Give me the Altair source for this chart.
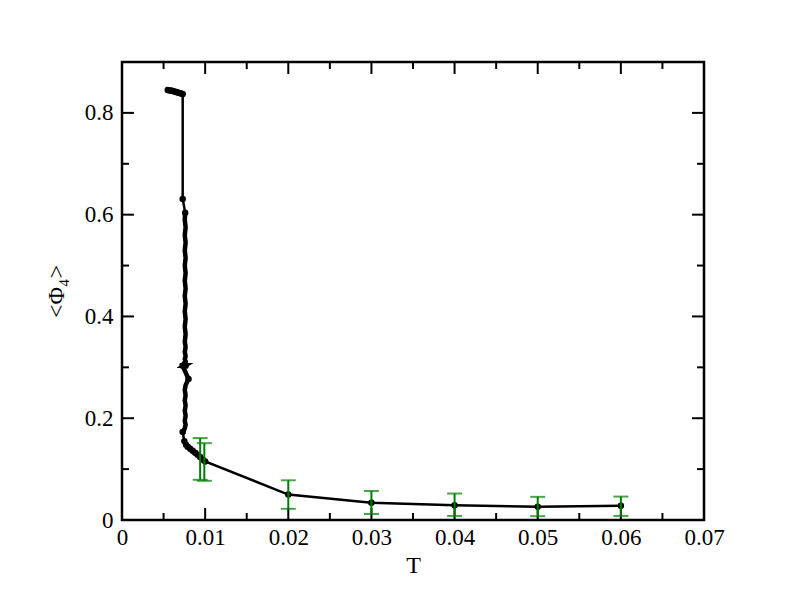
import altair as alt
import pandas as pd

# main series (plateau, steep drop, dense tail, high-T points)
T_main = [0.0055, 0.0057, 0.0059, 0.0061, 0.0063, 0.0065, 0.0067, 0.0069, 0.0071, 0.0073,
          0.0073, 0.0076,
          0.00755, 0.00765, 0.00755, 0.00765, 0.00755, 0.00765, 0.00755, 0.00765, 0.00755, 0.00765,
          0.00755, 0.00765, 0.00755, 0.00765, 0.00755, 0.00765, 0.00755, 0.00765, 0.00755, 0.00765,
          0.00755, 0.00765, 0.00755, 0.00765, 0.00755, 0.00765, 0.00755, 0.00765, 0.00755, 0.00765,
          0.0073, 0.0080,
          0.00765, 0.00755, 0.00765, 0.00755, 0.00765, 0.00755, 0.00765, 0.00755, 0.00765, 0.00755,
          0.0073, 0.0075, 0.0077, 0.0079, 0.0082, 0.0085, 0.0088, 0.0091, 0.0094,
          0.0097, 0.0100, 0.02, 0.03, 0.04, 0.05, 0.06]
phi_main = [0.845, 0.844, 0.844, 0.843, 0.842, 0.841, 0.840, 0.839, 0.838, 0.837,
            0.631, 0.604,
            0.590, 0.575, 0.560, 0.545, 0.530, 0.515, 0.500, 0.485, 0.470, 0.455,
            0.440, 0.425, 0.410, 0.395, 0.380, 0.365, 0.350, 0.340, 0.330, 0.322,
            0.316, 0.312, 0.310, 0.308, 0.306, 0.305, 0.304, 0.304, 0.303, 0.303,
            0.303, 0.277,
            0.265, 0.255, 0.245, 0.235, 0.225, 0.215, 0.205, 0.195, 0.187, 0.180,
            0.173, 0.155, 0.148, 0.144, 0.140, 0.136, 0.132, 0.128, 0.124,
            0.119, 0.115, 0.050, 0.034, 0.029, 0.026, 0.028]

# error-bar series
T_err = [0.0094, 0.0099, 0.02, 0.03, 0.04, 0.05, 0.06]
phi_err = [0.120, 0.114, 0.050, 0.0345, 0.030, 0.0265, 0.027]
d_err = [0.041, 0.037, 0.028, 0.0225, 0.022, 0.019, 0.019]

x_major = [0, 0.01, 0.02, 0.03, 0.04, 0.05, 0.06, 0.07]
x_minor = [0.005, 0.015, 0.025, 0.035, 0.045, 0.055, 0.065]
y_major = [0, 0.2, 0.4, 0.6, 0.8]
y_minor = [0.1, 0.3, 0.5, 0.7]

W, H = 582, 458
FONT = "Liberation Serif"

main = pd.DataFrame({"T": T_main, "phi": phi_main, "i": list(range(len(T_main)))})
# markers shown only at distinct points (the dense band reads as a thick line)
marker_idx = list(range(0, 12)) + [41, 42, 43] + list(range(54, len(T_main)))
marks_df = main.iloc[marker_idx]
band_df = main.iloc[11:55]
err = pd.DataFrame({"T": T_err, "lo": [p - d for p, d in zip(phi_err, d_err)],
                    "hi": [p + d for p, d in zip(phi_err, d_err)]})

xs = alt.Scale(domain=[0, 0.07], nice=False, zero=False)
ys = alt.Scale(domain=[0, 0.9], nice=False, zero=False)

xax = alt.Axis(values=x_major, format="~g", tickSize=0, domain=False, grid=False,
               labelFont=FONT, labelFontSize=23, labelColor="black", labelPadding=6,
               title="T", titleFont=FONT, titleFontSize=24, titleFontWeight="normal",
               titleColor="black", titlePadding=4, labelFlush=False)
yax = alt.Axis(values=y_major, format="~g", tickSize=0, domain=False, grid=False,
               labelFont=FONT, labelFontSize=23, labelColor="black", labelPadding=9,
               title="<Φ₄>", titleFont=FONT, titleFontSize=24, titleFontWeight="normal",
               titleColor="black", titlePadding=16, labelFlush=False)

line = alt.Chart(main).mark_line(color="black", strokeWidth=2.5).encode(
    x=alt.X("T:Q", scale=xs, axis=xax),
    y=alt.Y("phi:Q", scale=ys, axis=yax),
    order="i:Q",
)
band = alt.Chart(band_df).mark_line(color="black", strokeWidth=4.5).encode(
    x=alt.X("T:Q", scale=xs), y=alt.Y("phi:Q", scale=ys), order="i:Q"
)
pts = alt.Chart(marks_df).mark_circle(color="black", opacity=1, size=42).encode(
    x=alt.X("T:Q", scale=xs), y=alt.Y("phi:Q", scale=ys)
)

green = "#007d00"
ebar = alt.Chart(err).mark_rule(color=green, strokeWidth=2).encode(
    x=alt.X("T:Q", scale=xs), y=alt.Y("lo:Q", scale=ys), y2="hi:Q"
)
cap_hi = alt.Chart(err).mark_tick(color=green, thickness=2, size=15, orient="horizontal").encode(
    x=alt.X("T:Q", scale=xs), y=alt.Y("hi:Q", scale=ys)
)
cap_lo = alt.Chart(err).mark_tick(color=green, thickness=2, size=15, orient="horizontal").encode(
    x=alt.X("T:Q", scale=xs), y=alt.Y("lo:Q", scale=ys)
)

def xticks(vals, length):
    df = pd.DataFrame({"v": vals})
    b = alt.Chart(df).mark_rule(color="black", strokeWidth=2)
    bot = b.encode(x=alt.X("v:Q", scale=xs), y=alt.value(H), y2=alt.value(H - length))
    top = b.encode(x=alt.X("v:Q", scale=xs), y=alt.value(0), y2=alt.value(length))
    return [bot, top]

def yticks(vals, length):
    df = pd.DataFrame({"v": vals})
    b = alt.Chart(df).mark_rule(color="black", strokeWidth=2)
    left = b.encode(y=alt.Y("v:Q", scale=ys), x=alt.value(0), x2=alt.value(length))
    right = b.encode(y=alt.Y("v:Q", scale=ys), x=alt.value(W), x2=alt.value(W - length))
    return [left, right]

layers = (xticks(x_major, 12) + xticks(x_minor, 7) + yticks(y_major, 12) + yticks(y_minor, 7)
          + [line, band, pts, ebar, cap_hi, cap_lo])

chart = alt.layer(*layers).properties(
    width=W, height=H,
    autosize=alt.AutoSizeParams(type="none"),
    padding={"left": 114, "top": 54, "right": 80, "bottom": 84},
    background="white",
).configure_view(stroke="black", strokeWidth=2.5)

chart.save("out.html", embed_options={"renderer": "svg", "actions": False})
